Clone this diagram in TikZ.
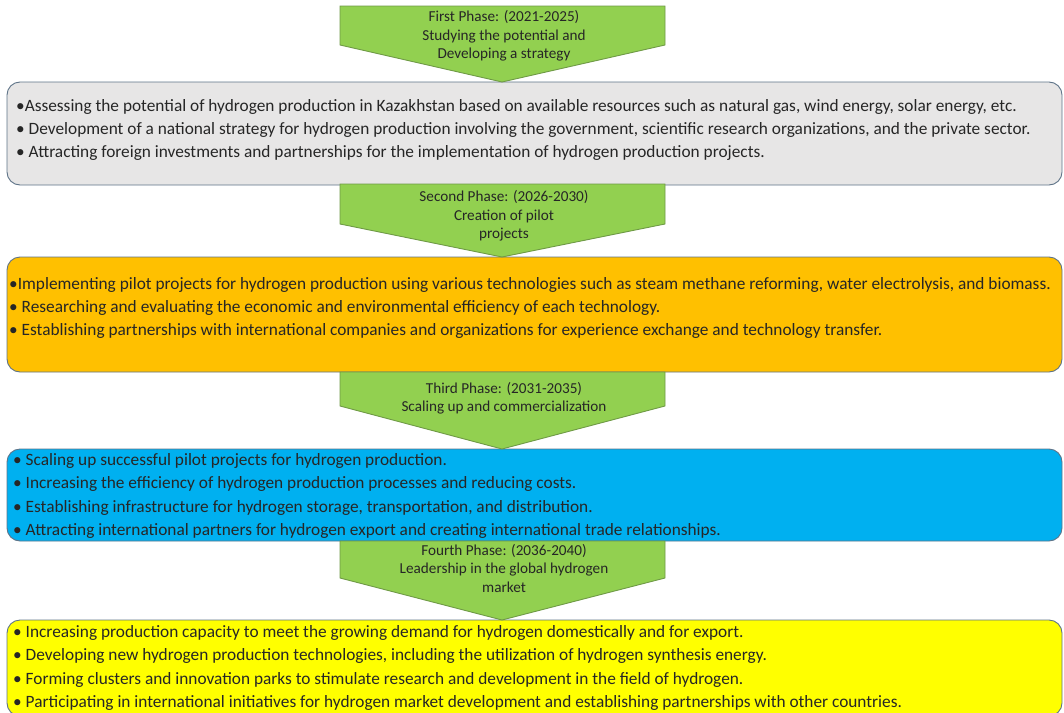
\documentclass[tikz,border=0pt]{standalone}
\usepackage{fontspec}
\setmainfont{Carlito}
\usepackage{xcolor}

\definecolor{phasegreen}{HTML}{92D050}
\definecolor{phaseedge}{HTML}{6F9A46}
\definecolor{boxgray}{HTML}{E7E6E6}
\definecolor{boxorange}{HTML}{FFC000}
\definecolor{boxblue}{HTML}{00B0F0}
\definecolor{boxyellow}{HTML}{FFFF00}
\definecolor{boxedge}{HTML}{5E7388}

\tikzset{
  infobox/.style={draw=boxedge, line width=0.9pt, rounded corners=13pt},
  phasearrow/.style={draw=phaseedge, line width=0.9pt, fill=phasegreen},
  phasetext/.style={align=center, font=\fontsize{15.2}{18.5}\selectfont, text=black!85, inner sep=0pt},
  bullettext/.style={align=left, anchor=west, font=\fontsize{17.3}{23.2}\selectfont, text=black!85, inner sep=0pt}
}

\begin{document}
\begin{tikzpicture}[x=1pt, y=-1pt]
    \useasboundingbox (0,0) rectangle (1064,712);

    % Boxes
    \draw[infobox, fill=boxgray]   (7,82)  rectangle (1062,185);
    \draw[infobox, fill=boxorange] (7,257) rectangle (1062,372);
    \draw[infobox, fill=boxblue]   (7,449) rectangle (1062,541);
    \draw[infobox, fill=boxyellow] (7,620) rectangle (1062,716);

    % Phase arrows
    \foreach \top/\side/\tip in {6/45/82, 184/224/257, 372/406/449, 541/578/620} {
        \draw[phasearrow] (340,\top) -- (665,\top) -- (665,\side) -- (502,\tip) -- (340,\side) -- cycle;
    }

    % Phase labels
    \node[phasetext] (phaseone) at (504,36) {First Phase: (2021-2025)\\Studying the potential and\\Developing a strategy};
    \node[phasetext] (phasetwo) at (504,216) {Second Phase: (2026-2030)\\Creation of pilot\\projects};
    \node[phasetext] (phasethree) at (504,398) {Third Phase: (2031-2035)\\Scaling up and commercialization};
    \node[phasetext] (phasefour) at (504,568) {Fourth Phase: (2036-2040)\\Leadership in the global hydrogen\\market};

    % Box contents
    \node[bullettext] (grayitems) at (16,130) {%
        •Assessing the potential of hydrogen production in Kazakhstan based on available resources such as natural gas, wind energy, solar energy, etc.\\
        • Development of a national strategy for hydrogen production involving the government, scientific research organizations, and the private sector.\\
        • Attracting foreign investments and partnerships for the implementation of hydrogen production projects.};
    \node[bullettext] (orangeitems) at (9,308) {%
        •Implementing pilot projects for hydrogen production using various technologies such as steam methane reforming, water electrolysis, and biomass.\\
        • Researching and evaluating the economic and environmental efficiency of each technology.\\
        • Establishing partnerships with international companies and organizations for experience exchange and technology transfer.};
    \node[bullettext] (blueitems) at (13,496) {%
        • Scaling up successful pilot projects for hydrogen production.\\
        • Increasing the efficiency of hydrogen production processes and reducing costs.\\
        • Establishing infrastructure for hydrogen storage, transportation, and distribution.\\
        • Attracting international partners for hydrogen export and creating international trade relationships.};
    \node[bullettext] (yellowitems) at (13,668) {%
        • Increasing production capacity to meet the growing demand for hydrogen domestically and for export.\\
        • Developing new hydrogen production technologies, including the utilization of hydrogen synthesis energy.\\
        • Forming clusters and innovation parks to stimulate research and development in the field of hydrogen.\\
        • Participating in international initiatives for hydrogen market development and establishing partnerships with other countries.};
\end{tikzpicture}
\end{document}
